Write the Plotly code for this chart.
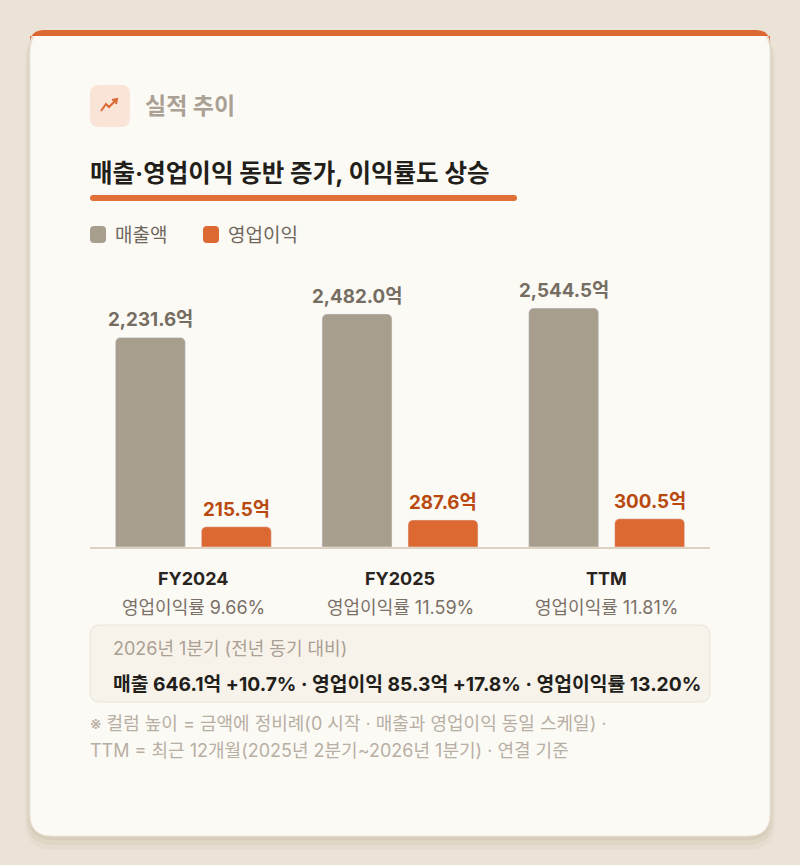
import plotly.graph_objects as go

# data
periods = ["FY2024", "FY2025", "TTM"]
revenue = [2231.6, 2482.0, 2544.5]
op_income = [215.5, 287.6, 300.5]
op_margin = [9.66, 11.59, 11.81]
series_names = ["매출액", "영업이익"]

header_label = "실적 추이"
title_text = "매출·영업이익 동반 증가, 이익률도 상승"
q_title = "2026년 1분기 (전년 동기 대비)"
q_line = "매출 646.1억 +10.7% · 영업이익 85.3억 +17.8% · 영업이익률 13.20%"
notes = [
    "※ 컬럼 높이 = 금액에 정비례(0 시작 · 매출과 영업이익 동일 스케일) ·",
    "TTM = 최근 12개월(2025년 2분기~2026년 1분기) · 연결 기준",
]

W, H = 800, 865
FONT = "Inter, Noto Sans CJK KR"
GRAY = "#a79e8e"
ORANGE = "#dc6832"


def px(x):
    return x / W


def py(y):
    return 1 - y / H


def rounded_rect(x0, y0, x1, y1, r, fill, line=None, lw=0, top_only=False):
    rx, ry = r / W, r / H
    a, b, c, d = px(x0), py(y0), px(x1), py(y1)
    if top_only:
        path = (f"M{a},{d} L{a},{b - ry} Q{a},{b} {a + rx},{b} L{c - rx},{b} "
                f"Q{c},{b} {c},{b - ry} L{c},{d} Z")
    else:
        path = (f"M{a + rx},{b} L{c - rx},{b} Q{c},{b} {c},{b - ry} L{c},{d + ry} "
                f"Q{c},{d} {c - rx},{d} L{a + rx},{d} Q{a},{d} {a},{d + ry} "
                f"L{a},{b - ry} Q{a},{b} {a + rx},{b} Z")
    return dict(type="path", path=path, xref="paper", yref="paper",
                fillcolor=fill, line=dict(color=line or fill, width=lw), layer="below")


fig = go.Figure()
fig.add_trace(go.Bar(x=periods, y=revenue, name=series_names[0], marker_color=GRAY,
                     hoverinfo="skip"))
fig.add_trace(go.Bar(x=periods, y=op_income, name=series_names[1], marker_color=ORANGE,
                     hoverinfo="skip"))

shapes = []
# card shadow + card
shapes.append(rounded_rect(25, 33, 775, 850, 28, "rgba(170,150,120,0.08)"))
shapes.append(rounded_rect(27, 32, 773, 845, 26, "rgba(170,150,120,0.10)"))
shapes.append(rounded_rect(29, 31, 771, 840, 24, "rgba(170,150,120,0.12)"))
shapes.append(rounded_rect(30, 30, 770, 836, 22, "#fcfaf5", line="#efe8dc", lw=1))
shapes.append(rounded_rect(30, 30, 770, 36, 14, ORANGE, top_only=True))
# header icon
shapes.append(rounded_rect(90, 85, 130, 127, 9, "#f9e4d7"))
shapes.append(dict(type="path", xref="paper", yref="paper",
                   path=f"M{px(101)},{py(111)} L{px(106)},{py(104)} L{px(109)},{py(107)} L{px(116)},{py(100)}",
                   line=dict(color=ORANGE, width=2)))
shapes.append(dict(type="path", xref="paper", yref="paper",
                   path=f"M{px(112)},{py(100)} L{px(117)},{py(99)} L{px(116)},{py(104)}",
                   line=dict(color=ORANGE, width=2)))
# title underline
shapes.append(rounded_rect(90, 195, 517, 201, 3, "#e07038"))
# legend swatches
shapes.append(rounded_rect(90, 226, 106, 243, 4, GRAY))
shapes.append(rounded_rect(203, 226, 219, 243, 4, ORANGE))
# quarter box
shapes.append(rounded_rect(90, 625, 710, 702, 10, "#f8f3ea", line="#ece3d3", lw=1))

ann = []


def text(x, y, s, size, color, bold=False, anchor="left"):
    ann.append(dict(x=px(x), y=py(y), xref="paper", yref="paper", text=s,
                    showarrow=False, xanchor=anchor, yanchor="middle",
                    font=dict(family=FONT, size=size, color=color,
                              weight="bold" if bold else "normal")))


text(143, 106, header_label, 23, "#aaa094", bold=True)
text(88, 173, title_text, 24.5, "#221e1a", bold=True)
text(113, 235, series_names[0], 19, "#6f675d")
text(226, 235, series_names[1], 19, "#6f675d")
text(111, 648, q_title, 18, "#aaa095")
text(111, 684, q_line, 19.3, "#221e1a", bold=True)
text(88, 723, notes[0], 18, "#b8afa4")
text(88, 750, notes[1], 18, "#b8afa4")

for i, p in enumerate(periods):
    ann.append(dict(x=p, y=revenue[i], xref="x", yref="y", xshift=-43, yshift=4,
                    text=f"{revenue[i]:,.1f}억", showarrow=False, yanchor="bottom",
                    font=dict(family=FONT, size=18.8, color="#756d62", weight="bold")))
    ann.append(dict(x=p, y=op_income[i], xref="x", yref="y", xshift=43, yshift=4,
                    text=f"{op_income[i]:,.1f}억", showarrow=False, yanchor="bottom",
                    font=dict(family=FONT, size=18.8, color="#b8490f", weight="bold")))
    ann.append(dict(x=p, y=0, xref="x", yref="y", yshift=-31, text=p, showarrow=False,
                    yanchor="middle",
                    font=dict(family=FONT, size=18, color="#2a2420", weight="bold")))
    ann.append(dict(x=p, y=0, xref="x", yref="y", yshift=-60,
                    text=f"영업이익률 {op_margin[i]:.2f}%", showarrow=False, yanchor="middle",
                    font=dict(family=FONT, size=18, color="#7a7068")))

fig.update_layout(
    width=W, height=H,
    margin=dict(l=0, r=0, t=0, b=0),
    paper_bgcolor="#ebe3d7",
    plot_bgcolor="rgba(0,0,0,0)",
    showlegend=False,
    barmode="group",
    bargap=0.168,
    bargroupgap=0.186,
    barcornerradius=5,
    shapes=shapes,
    annotations=ann,
    font=dict(family=FONT),
    xaxis=dict(domain=[px(90), px(710)], showticklabels=False, showgrid=False,
               zeroline=False, showline=True, linecolor="#ddd2c2", linewidth=2,
               fixedrange=True),
    yaxis=dict(domain=[py(547), py(270)], range=[0, 2950], showticklabels=False,
               showgrid=False, zeroline=False, fixedrange=True),
)

fig.write_html("out.html", config={"displayModeBar": False},
               post_script="document.body.style.margin='0';")
